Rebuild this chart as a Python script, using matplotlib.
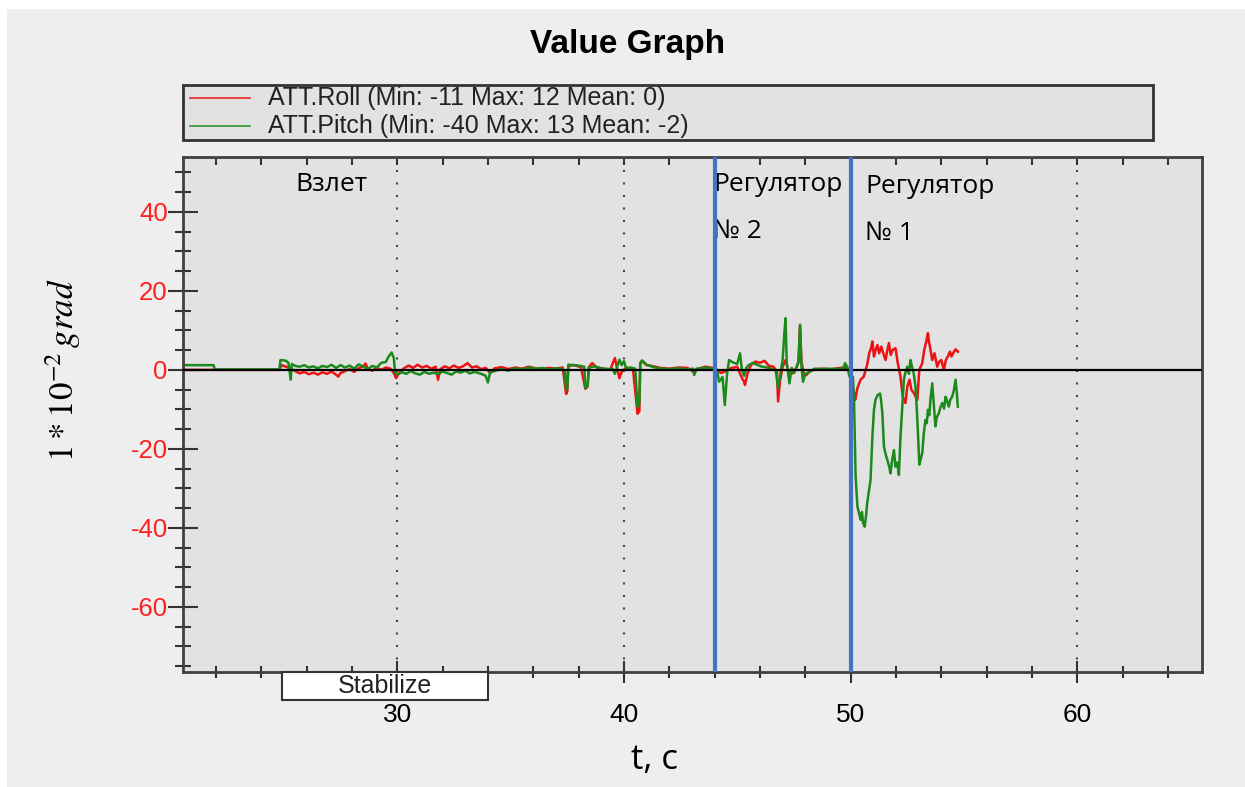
import matplotlib
matplotlib.use("Agg")
import matplotlib.pyplot as plt
from matplotlib.patches import Rectangle
from matplotlib.lines import Line2D
from matplotlib.ticker import MultipleLocator
import matplotlib.transforms as mtransforms

plt.rcParams['font.family'] = ['Liberation Sans', 'DejaVu Sans']
plt.rcParams['mathtext.fontset'] = 'stix'
plt.rcParams['axes.unicode_minus'] = False

# ATT.Pitch, time in seconds / value in 1e-2 grad
t_pitch = [20.6, 21.9, 21.95, 24.8, 24.85, 25.1, 25.2, 25.3, 25.35, 25.5, 25.7, 25.9, 26.1, 26.3,
           26.5, 26.7, 26.9, 27.1, 27.3, 27.5, 27.7, 27.9, 28.1, 28.3, 28.5, 28.7, 28.9, 29.1,
           29.3, 29.5, 29.6, 29.75, 29.85, 29.9, 30.0, 30.2, 30.4, 30.6, 30.8, 31.0, 31.2, 31.4,
           31.6, 31.8, 32.0, 32.2, 32.4, 32.6, 32.8, 33.0, 33.2, 33.4, 33.7, 33.9, 34.0, 34.1,
           34.3, 34.6, 34.9, 35.2, 35.5, 35.8, 36.1, 36.4, 36.7, 37.0, 37.3, 37.4, 37.45, 37.5,
           37.55, 37.8, 38.1, 38.25, 38.3, 38.4, 38.45, 38.7, 39.0, 39.3, 39.5, 39.6, 39.7, 39.8,
           39.9, 40.0, 40.1, 40.3, 40.5, 40.6, 40.68, 40.72, 40.8, 41.0, 41.3, 41.6, 42.0, 42.4,
           42.8, 43.05, 43.1, 43.2, 43.6, 43.9, 44.1, 44.2, 44.35, 44.45, 44.55, 44.64, 44.8, 45.0,
           45.12, 45.2, 45.3, 45.4, 45.5, 45.7, 45.9, 46.1, 46.3, 46.5, 46.7, 46.8, 46.9, 47.0,
           47.08, 47.13, 47.18, 47.3, 47.4, 47.5, 47.6, 47.7, 47.77, 47.83, 47.9, 48.0, 48.2, 48.4,
           48.7, 49.0, 49.4, 49.7, 49.75, 49.85, 49.95, 50.1, 50.15, 50.22, 50.3, 50.38, 50.45, 50.5,
           50.55, 50.62, 50.68, 50.73, 50.8, 50.88, 50.96, 51.03, 51.1, 51.2, 51.3, 51.35, 51.4, 51.47,
           51.55, 51.62, 51.7, 51.76, 51.83, 51.91, 51.98, 52.05, 52.13, 52.2, 52.28, 52.35, 52.42, 52.5,
           52.57, 52.64, 52.7, 52.78, 52.86, 52.92, 52.97, 53.03, 53.1, 53.16, 53.23, 53.3, 53.36, 53.41,
           53.47, 53.52, 53.6, 53.66, 53.74, 53.8, 53.89, 53.96, 54.04, 54.12, 54.19, 54.26, 54.33, 54.4,
           54.48, 54.56, 54.63, 54.68, 54.73]
pitch = [1.2, 1.2, 0.1, 0.1, 2.5, 2.3, 1.8, -2.5, 1.5, 1.0, 0.8, 1.2, 0.6, 0.9,
         0.4, 1.0, 0.7, 1.3, 0.5, 1.2, 0.6, 1.1, 0.3, 1.4, 0.8, 0.2, 1.0, 0.6,
         1.8, 2.0, 3.2, 4.4, 3.0, -0.5, -1.2, -0.6, -1.0, -0.3, -0.9, -1.2, -0.5, -1.0,
         -0.7, -1.1, -0.4, -0.8, -1.2, -0.4, -0.7, -0.2, -0.9, -0.5, -1.0, -1.5, -3.2, -0.6,
         -0.3, 0.2, -0.2, 0.4, 0.1, 0.6, 0.3, 0.5, 0.1, 0.4, 0.2, -0.5, -5.0, -4.8,
         1.3, 1.2, 1.0, 0.8, -4.6, -4.0, 0.5, 0.9, 0.4, 0.2, 0.3, -1.0, 0.8, 2.6,
         1.2, 2.2, 0.4, 0.6, 0.3, -9.3, -8.5, 1.8, 2.4, 1.3, 0.7, 0.3, 0.2, 0.4,
         0.1, 0.3, -1.3, 0.3, 0.6, 0.3, 0.0, -3.0, -1.8, -8.9, -1.0, 2.5, 1.9, 1.5,
         4.2, 0.2, -1.5, 0.5, 1.2, 1.8, 1.2, 0.8, 0.6, 0.3, -0.2, -4.6, -1.0, 2.5,
         9.5, 13.1, 2.0, -3.4, 0.5, -0.8, 0.3, 2.0, 11.4, 1.0, -3.0, -1.0, -0.5, 0.3,
         0.2, 0.3, 0.2, 0.5, 1.7, 0.8, -1.7, -1.7, -7.6, -27.0, -34.6, -36.5, -38.0, -36.0,
         -38.8, -39.7, -37.0, -33.8, -31.0, -27.8, -16.9, -10.1, -7.5, -6.3, -6.0, -8.0, -11.0, -19.4,
         -21.5, -22.8, -24.5, -26.2, -23.0, -20.3, -24.5, -23.5, -26.6, -16.9, -9.3, -2.5, -0.5, 0.8,
         -1.0, 2.5, 1.0, -0.8, -4.2, -10.0, -16.0, -24.0, -22.5, -21.0, -16.0, -12.7, -13.5, -10.1,
         -11.5, -7.6, -3.4, -8.0, -14.3, -12.0, -11.0, -9.5, -8.4, -9.8, -6.8, -8.0, -9.3, -7.5,
         -6.8, -5.0, -2.5, -5.5, -9.3]

# ATT.Roll
t_roll = [20.6, 24.8, 24.9, 25.1, 25.3, 25.5, 25.7, 25.9, 26.1, 26.3, 26.5, 26.7, 26.9, 27.1,
          27.3, 27.4, 27.5, 27.7, 27.9, 28.1, 28.3, 28.5, 28.6, 28.7, 28.9, 29.1, 29.3, 29.5,
          29.7, 29.85, 29.95, 30.1, 30.3, 30.5, 30.7, 30.9, 31.1, 31.3, 31.5, 31.7, 31.8, 31.9,
          32.1, 32.3, 32.5, 32.7, 32.9, 33.1, 33.3, 33.5, 33.7, 33.9, 34.1, 34.3, 34.6, 34.9,
          35.2, 35.5, 35.8, 36.1, 36.4, 36.7, 37.0, 37.3, 37.45, 37.5, 37.55, 37.8, 38.1, 38.3,
          38.4, 38.45, 38.6, 38.8, 39.1, 39.4, 39.6, 39.7, 39.8, 39.9, 40.1, 40.4, 40.6, 40.68,
          40.72, 40.8, 41.0, 41.3, 41.6, 42.0, 42.4, 42.8, 43.1, 43.3, 43.6, 43.9, 44.1, 44.3,
          44.5, 44.7, 45.0, 45.2, 45.3, 45.34, 45.45, 45.6, 45.8, 46.0, 46.2, 46.4, 46.6, 46.75,
          46.8, 46.88, 47.0, 47.13, 47.25, 47.4, 47.6, 47.7, 47.77, 47.83, 47.95, 48.05, 48.2, 48.5,
          48.8, 49.1, 49.4, 49.7, 49.9, 50.0, 50.08, 50.15, 50.2, 50.3, 50.44, 50.58, 50.73, 50.82,
          50.9, 50.96, 51.03, 51.1, 51.18, 51.26, 51.35, 51.45, 51.54, 51.62, 51.69, 51.77, 51.85, 51.98,
          52.08, 52.2, 52.3, 52.42, 52.5, 52.6, 52.68, 52.79, 52.94, 53.03, 53.16, 53.25, 53.35, 53.41,
          53.46, 53.5, 53.6, 53.7, 53.82, 53.9, 54.0, 54.11, 54.2, 54.3, 54.38, 54.45, 54.55, 54.63,
          54.73]
roll = [0.0, 0.0, 1.2, 0.8, 0.3, -0.3, -0.9, -0.5, -1.1, -0.7, -1.2, -0.6, -1.0, -0.4,
        -1.2, -1.7, -0.8, -0.3, 0.2, -0.5, 0.4, 0.9, 1.6, 0.3, -0.2, 0.5, 0.0, 0.6,
        0.3, -0.8, -2.1, -0.6, 0.4, 1.1, 0.5, 1.3, 0.6, 1.0, 0.3, 0.8, -2.5, 0.2,
        0.9, 0.4, 1.1, 0.5, 0.9, 1.7, 0.6, 0.9, 0.2, 0.5, -0.8, 0.4, 0.7, 0.2,
        0.6, 0.3, 0.8, 0.4, 0.2, 0.5, 0.3, 0.6, -6.1, -5.5, 1.0, 1.2, 0.7, -4.8,
        -4.2, 0.7, 1.7, 0.6, 0.3, 0.1, 3.0, 0.5, -2.1, -0.5, 0.6, 0.2, -11.1, -10.5,
        1.5, 2.2, 1.2, 0.9, 0.5, 0.3, 0.6, 0.5, -0.6, 0.3, 0.8, 0.5, -0.2, -0.8,
        -0.3, 0.4, 0.8, -2.0, -3.0, -3.8, -1.0, 1.2, 2.1, 1.8, 2.3, 1.0, 0.8, -0.5,
        -8.0, -3.0, 0.8, 2.5, -0.5, -1.0, 0.5, 2.0, 11.4, 2.0, -1.3, -1.3, -0.3, 0.2,
        0.3, 0.1, 0.4, 0.6, 0.2, -1.5, -4.2, -6.0, -7.6, -4.6, -2.5, -1.7, 1.3, 4.2,
        5.5, 7.2, 3.4, 5.0, 6.3, 4.2, 5.9, 4.0, 2.5, 5.0, 6.8, 3.8, 5.0, 5.5,
        1.7, -1.7, -6.8, -8.4, -4.2, -2.5, -5.0, -5.9, -7.6, 0.0, 1.7, 5.1, 7.5, 9.3,
        7.0, 5.9, 2.5, 4.2, 0.8, 2.0, 2.5, 0.0, 2.5, 3.5, 4.6, 3.4, 4.5, 5.2,
        4.6]

regulator_times = [44.0, 50.0]
stabilize_span = (24.9, 34.0)
roll_label = "ATT.Roll (Min: -11 Max: 12 Mean: 0)"
pitch_label = "ATT.Pitch (Min: -40 Max: 13 Mean: -2)"

fig = plt.figure(figsize=(12.45, 7.87), dpi=100, facecolor='white')
# light grey panel behind everything
fig.add_artist(Rectangle((7 / 1245, 0), 1, 1 - 9 / 787, transform=fig.transFigure,
                         facecolor='#eeeeee', edgecolor='none', zorder=-10))

ax = fig.add_axes([183 / 1245, 1 - 672 / 787, 1019 / 1245, 515 / 787])
ax.set_facecolor('#e2e2e2')
ax.set_xlim(20.55, 65.5)
ax.set_ylim(-76.5, 53.9)

ax.plot(t_roll, roll, color='#ee1111', lw=1.8, zorder=2)
ax.plot(t_pitch, pitch, color='#1b8a1b', lw=1.8, zorder=2.1)
ax.axhline(0, color='black', lw=1.6, zorder=3)
for xv in regulator_times:
    ax.axvline(xv, color='#4472c4', lw=3, zorder=4)

# dotted vertical grid
for xv in [30, 40, 50, 60]:
    ax.axvline(xv, color='#444444', lw=1.5, ls=(0, (1, 5)), zorder=1)

for sp in ax.spines.values():
    sp.set_color('#404040')
    sp.set_linewidth(2)

ax.xaxis.set_major_locator(MultipleLocator(10))
ax.xaxis.set_minor_locator(MultipleLocator(2))
ax.yaxis.set_major_locator(MultipleLocator(20))
ax.yaxis.set_minor_locator(MultipleLocator(5))
ax.tick_params(axis='x', which='major', direction='inout', length=16, width=1.5,
               colors='#333333', labelcolor='black', labelsize=19, pad=14)
ax.tick_params(axis='x', which='minor', direction='inout', length=9, width=1.5, colors='#333333')
ax.tick_params(axis='y', which='major', direction='inout', length=22, width=1.5,
               colors='#333333', labelcolor='#ff2020', labelsize=18.5, pad=0)
ax.tick_params(axis='y', which='minor', direction='inout', length=12, width=1.5, colors='#333333')

top = ax.secondary_xaxis('top')
top.xaxis.set_major_locator(MultipleLocator(10))
top.xaxis.set_minor_locator(MultipleLocator(2))
top.tick_params(which='both', direction='in', length=6, width=1.5, colors='#333333',
                labeltop=False)

ax.set_ylabel(r'$1 * 10^{-2}\,grad$', fontsize=25)
ax.yaxis.set_label_coords(-0.118, 0.586)
ax.yaxis.label.set_va('center')
ax.set_xlabel('t, c', fontsize=25, family=['Open Sans', 'DejaVu Sans'])
ax.xaxis.set_label_coords(0.463, -0.171)
ax.xaxis.label.set_va('center')

# flight mode strip under the axis
trans = mtransforms.blended_transform_factory(ax.transData, ax.transAxes)
ax.add_patch(Rectangle((stabilize_span[0], -0.054), stabilize_span[1] - stabilize_span[0], 0.054,
                       transform=trans, facecolor='white', edgecolor='#333333', lw=1.5,
                       clip_on=False, zorder=5))
ax.text(sum(stabilize_span) / 2, -0.027, 'Stabilize', transform=trans, ha='center',
        va='center', fontsize=18, zorder=6, color='#222222')

ann_font = ['Open Sans', 'DejaVu Sans']
ax.text(25.5, 47, 'Взлет', fontsize=19, family=ann_font, va='center', ha='left')
ax.text(43.95, 47, 'Регулятор', fontsize=19, family=ann_font, va='center', ha='left')
ax.text(43.95, 35, '№ 2', fontsize=19, family=ann_font, va='center', ha='left')
ax.text(50.65, 46.5, 'Регулятор', fontsize=19, family=ann_font, va='center', ha='left')
ax.text(50.65, 34.5, '№ 1', fontsize=19, family=ann_font, va='center', ha='left')

fig.text(628 / 1245, 1 - 44 / 787, 'Value Graph', fontsize=24, fontweight='bold',
         ha='center', va='center')

# legend box
fig.add_artist(Rectangle((183 / 1245, 1 - 140 / 787), 970 / 1245, 55 / 787,
                         transform=fig.transFigure, facecolor='#e2e2e2',
                         edgecolor='#333333', lw=2))
fig.add_artist(Line2D([190 / 1245, 250 / 1245], [1 - 98 / 787] * 2,
                      transform=fig.transFigure, color='#f03030', lw=1.3))
fig.add_artist(Line2D([190 / 1245, 250 / 1245], [1 - 126 / 787] * 2,
                      transform=fig.transFigure, color='#3a9a3a', lw=1.3))
fig.text(268 / 1245, 1 - 98 / 787, roll_label, fontsize=18, va='center', ha='left',
         color='#222222')
fig.text(268 / 1245, 1 - 126 / 787, pitch_label, fontsize=18, va='center', ha='left',
         color='#222222')

fig.savefig('out.png', dpi=100, facecolor=fig.get_facecolor())
